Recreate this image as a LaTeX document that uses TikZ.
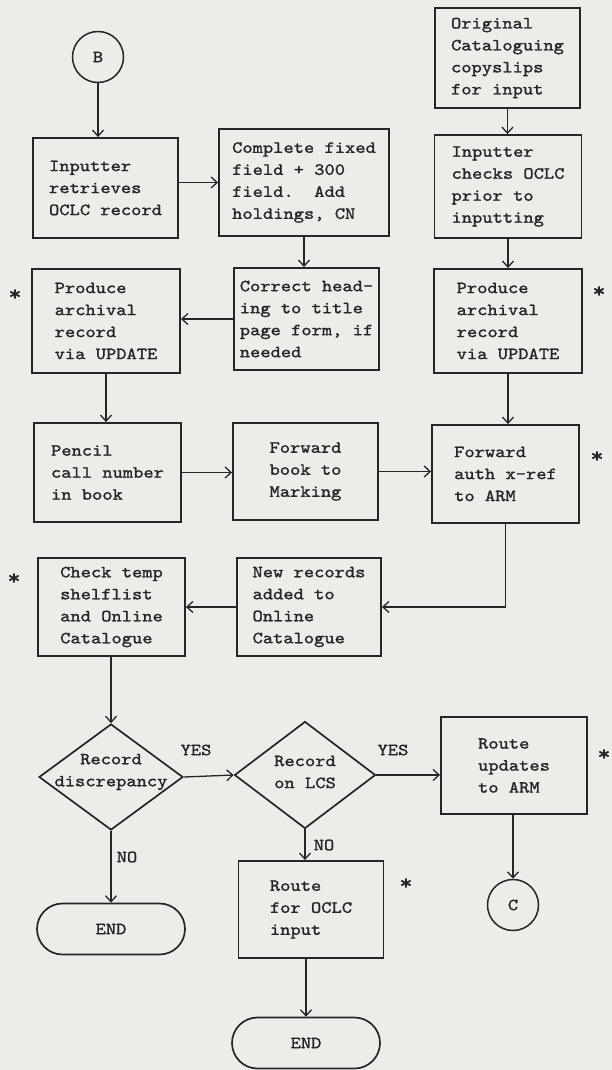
\documentclass[tikz,border=0pt]{standalone}
\usepackage{fontspec}
\newfontfamily\tw{lmmono10-regular.otf}[FakeStretch=1.15,FakeBold=1.4]
\usetikzlibrary{arrows.meta,shapes.geometric,shapes.misc}
\definecolor{paper}{RGB}{236,236,233}
\definecolor{ink}{RGB}{38,38,38}
\begin{document}
\begin{tikzpicture}[x=1pt,y=-1pt,
  every node/.style={text=ink, font=\tw\fontsize{17}{22}\selectfont},
  procbox/.style={draw=ink, line width=1.9pt, rectangle, align=left, inner sep=0pt},
  decbox/.style={draw=ink, line width=1.7pt, diamond, inner sep=0pt},
  termbox/.style={draw=ink, line width=1.7pt, rounded rectangle, inner sep=0pt,
    minimum width=148pt, minimum height=51pt},
  connbox/.style={draw=ink, line width=1.5pt, circle, inner sep=0pt, minimum size=51pt},
  flow/.style={draw=ink, line width=1.3pt, -{Straight Barb[length=6pt,width=11pt]}},
  note/.style={inner sep=0pt},
  star/.style={inner sep=0pt, font=\tw\fontsize{22}{22}\selectfont}
]
\useasboundingbox (0,0) rectangle (612,1070);
\fill[paper] (0,0) rectangle (612,1070);

% connectors in and out of the page
\node[connbox] (B) at (98,57) {B};
\node[connbox] (C) at (513,905) {C};

% process boxes
\node[procbox, minimum width=145pt, minimum height=100pt] (inp) at (105.5,188)
  {Inputter\\retrieves\\OCLC record};
\node[procbox, minimum width=170pt, minimum height=107pt] (cmp) at (304,182.5)
  {Complete fixed\\field + 300\\field.~~Add\\holdings, CN};
\node[procbox, minimum width=145pt, minimum height=100pt] (orig) at (507.5,58)
  {Original\\Cataloguing\\copyslips\\for input};
\node[procbox, minimum width=147pt, minimum height=103pt] (chk) at (508,186.5)
  {Inputter\\checks OCLC\\prior to\\inputting};
\node[procbox, minimum width=148pt, minimum height=104pt] (prodL) at (106,321)
  {Produce\\archival\\record\\via UPDATE};
\node[procbox, minimum width=145pt, minimum height=102pt] (corr) at (306.5,319)
  {Correct head-\\ing to title\\page form, if\\needed};
\node[procbox, minimum width=148pt, minimum height=104pt] (prodR) at (508,321)
  {Produce\\archival\\record\\via UPDATE};
\node[procbox, minimum width=147pt, minimum height=99pt] (pencil) at (107.5,472.5)
  {Pencil\\call number\\in book};
\node[procbox, minimum width=145pt, minimum height=97pt] (fwdbook) at (305.5,471.5)
  {Forward\\book to\\Marking};
\node[procbox, minimum width=147pt, minimum height=98pt] (fwdauth) at (505.5,474)
  {Forward\\auth x-ref\\to ARM};
\node[procbox, minimum width=147pt, minimum height=98pt] (check) at (111.5,607)
  {Check temp\\shelflist\\and Online\\Catalogue};
\node[procbox, minimum width=144pt, minimum height=98pt] (newrec) at (309,607)
  {New records\\added to\\Online\\Catalogue};
\node[procbox, minimum width=146pt, minimum height=97pt] (route) at (514,765.5)
  {Route\\updates\\to ARM};
\node[procbox, minimum width=145pt, minimum height=97pt] (routeoclc) at (311,909.5)
  {Route\\for OCLC\\input};

% decisions
\node[decbox, minimum width=144pt, minimum height=106pt] (d1) at (111,777) {};
\node[align=center, inner sep=0pt] (d1t) at (111,772) {Record\\discrepancy};
\node[decbox, minimum width=141pt, minimum height=107pt] (d2) at (305,775) {};
\node[align=center, inner sep=0pt] (d2t) at (305,772) {Record\\on LCS};

% terminals
\node[termbox] (end1) at (111,929) {END};
\node[termbox] (end2) at (306,1043) {END};

% flow lines
\draw[flow] (B.south) -- (B.south |- inp.north);
\draw[flow] (inp.east |- cmp.west) -- (cmp.west);
\draw[flow] (orig.south) -- (orig.south |- chk.north);
\draw[flow] (cmp.south) -- (cmp.south |- corr.north);
\draw[flow] (chk.south) -- (chk.south |- prodR.north);
\draw[flow] (corr.west) -- (corr.west -| prodL.east);
\draw[flow] (prodL.south) -- (prodL.south |- pencil.north);
\draw[flow] (pencil.east) -- (pencil.east -| fwdbook.west);
\draw[flow] (fwdbook.east) -- (fwdbook.east -| fwdauth.west);
\draw[flow] (prodR.south) -- (prodR.south |- fwdauth.north);
\draw[flow] (fwdauth.south) |- (newrec.east);
\draw[flow] (newrec.west) -- (newrec.west -| check.east);
\draw[flow] (check.south -| d1.north) -- (d1.north);
\draw[flow] (d1.east) -- (d2.west);
\draw[flow] (d2.east) -- (d2.east -| route.west);
\draw[flow] (d1.south) -- (d1.south |- end1.north);
\draw[flow] (d2.south) -- (d2.south |- routeoclc.north);
\draw[flow] (end2.north |- routeoclc.south) -- (end2.north);
\draw[flow] (route.south -| C.north) -- (C.north);

% branch labels
\node[note] (yes1) at (196,750) {YES};
\node[note] (yes2) at (393,750) {YES};
\node[note] (no1) at (127,857) {NO};
\node[note] (no2) at (324,845) {NO};

% marks beside steps
\node[star] (s1) at (15,295) {*};
\node[star] (s2) at (599,292) {*};
\node[star] (s3) at (597,457) {*};
\node[star] (s4) at (14,579) {*};
\node[star] (s5) at (604,755) {*};
\node[star] (s6) at (406,884) {*};
\end{tikzpicture}
\end{document}
